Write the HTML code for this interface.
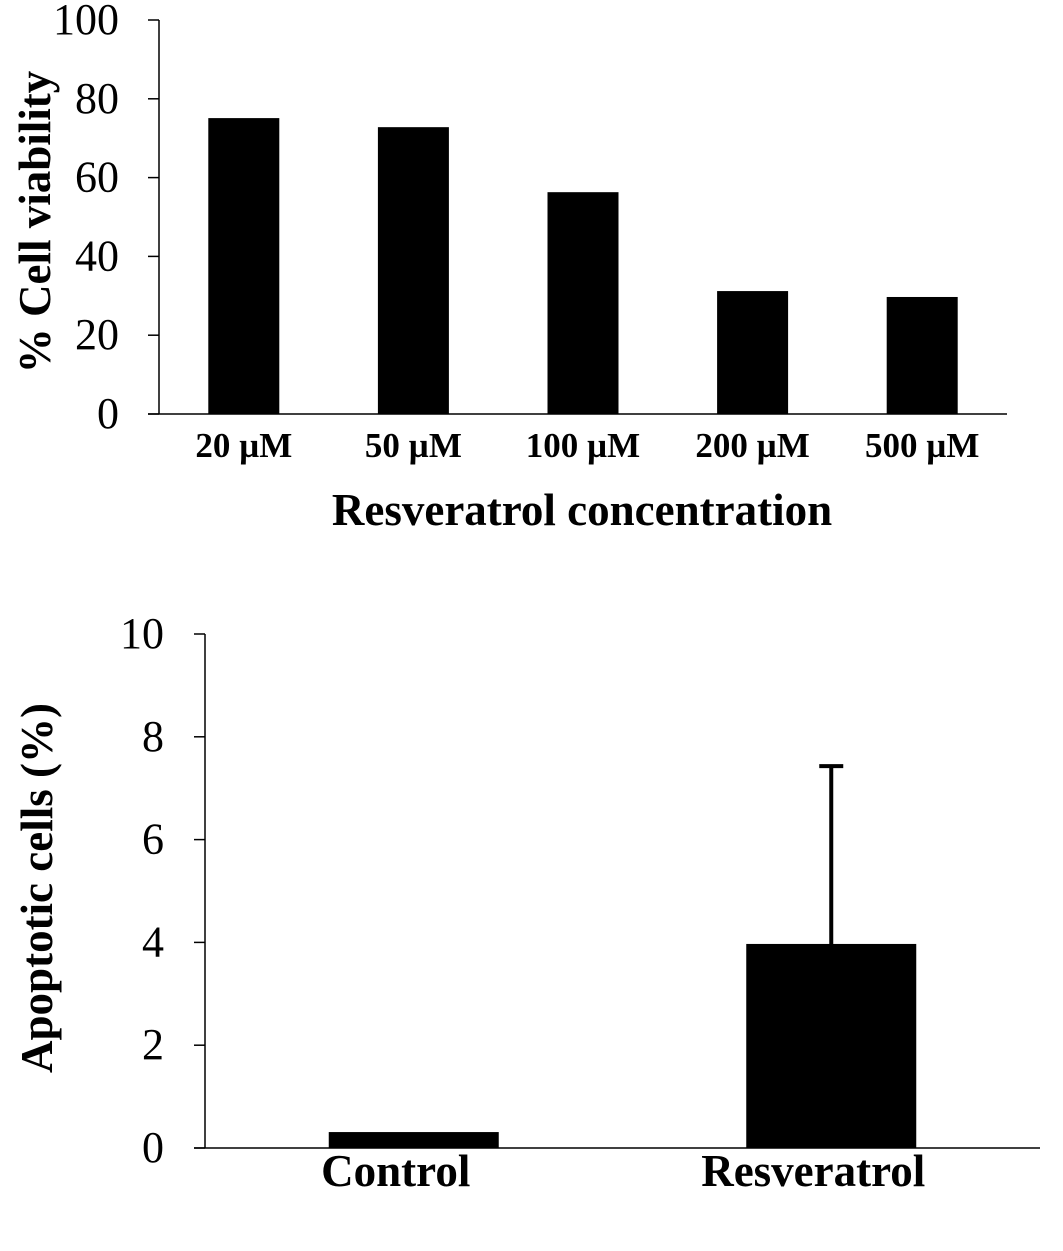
<!DOCTYPE html>
<html><head><meta charset="utf-8"><style>
html,body{margin:0;padding:0;background:#fff;}
svg{display:block;font-family:"Liberation Serif",serif;}
</style></head><body>
<svg id="c" width="1063" height="1251" viewBox="0 0 1063 1251"></svg>
<script>
const topCategories = ["20 µM","50 µM","100 µM","200 µM","500 µM"];
const topValues = [75.1, 72.8, 56.3, 31.2, 29.7];
const topTicks = [0,20,40,60,80,100];
const botCategories = ["Control","Resveratrol"];
const botValues = [0.31, 3.97];
const botErrors = [0, 3.46];
const botTicks = [0,2,4,6,8,10];

const NS="http://www.w3.org/2000/svg";
const svg=document.getElementById('c');
function mk(tag,attrs,parent){const e=document.createElementNS(NS,tag);for(const k in attrs)e.setAttribute(k,attrs[k]);(parent||svg).appendChild(e);return e;}

function chart(o){
  const g=mk('g',{});
  
  
  const y=v=>o.y0-(v-o.vmin)/(o.vmax-o.vmin)*(o.y0-o.y1);
  const bw=(o.xEnd-o.xAxis)/o.cats.length;
  const xc=i=>o.xAxis+bw*(i+0.5);
  o.cats.forEach((c,i)=>{
    const v=o.vals[i];
    const r=mk('rect',{x:xc(i)-o.barW/2,y:y(v),width:o.barW,height:o.y0-y(v),fill:'#000'},g);
    
    
    if(o.errs&&o.errs[i]>0){
      const e=mk('g',{},g);
      
      
      mk('line',{x1:xc(i),x2:xc(i),y1:y(v),y2:y(v+o.errs[i]),stroke:'#000','stroke-width':4},e);
      mk('line',{x1:xc(i)-12,x2:xc(i)+12,y1:y(v+o.errs[i]),y2:y(v+o.errs[i]),stroke:'#000','stroke-width':4},e);
    }
    const t=mk('text',{x:xc(i)+o.xLabelDx,y:o.xLabelY,'text-anchor':'middle','font-weight':'bold','font-size':o.xFont},g);
    t.textContent=c;
    
    
  });
  const ax=mk('line',{x1:o.xAxis,x2:o.xAxis,y1:o.y1,y2:o.y0,stroke:'#000','stroke-width':1.5},g);
  
  
  const xa=mk('line',{x1:o.xAxis-11,x2:o.xEnd,y1:o.y0,y2:o.y0,stroke:'#000','stroke-width':1.5},g);
  
  
  o.ticks.forEach(tv=>{
    mk('line',{x1:o.xAxis-11,x2:o.xAxis,y1:y(tv),y2:y(tv),stroke:'#000','stroke-width':1.5},g);
    const t=mk('text',{x:o.tickX,y:y(tv)+14,'text-anchor':'end','font-size':44},g);
    t.textContent=tv;
    
    
  });
  const yt=mk('text',{x:0,y:0,transform:`translate(${o.ytX},${o.ytY}) rotate(-90)`,'text-anchor':'middle','font-weight':'bold','font-size':o.ytFont},g);
  yt.textContent=o.ytitle;
  
  
  if(o.xtitle){
    const xt=mk('text',{x:o.xtX,y:o.xtY,'text-anchor':'middle','font-weight':'bold','font-size':45},g);
    xt.textContent=o.xtitle;
    
    
  }
}
chart({name:'cell-viability-chart',cats:topCategories,vals:topValues,ticks:topTicks,vmin:0,vmax:100,
  y0:414,y1:20,xAxis:159,xEnd:1007,barW:71,xLabelY:457,xLabelDx:0,xFont:35,tickX:119,
  ytitle:'% Cell viability',ytX:50,ytY:222,ytFont:45,xtitle:'Resveratrol concentration',xtX:582,xtY:525});
chart({name:'apoptotic-cells-chart',cats:botCategories,vals:botValues,errs:botErrors,ticks:botTicks,vmin:0,vmax:10,
  y0:1148,y1:634,xAxis:205,xEnd:1040,barW:170,xLabelY:1186,xLabelDx:-18,xFont:45,tickX:164,
  ytitle:'Apoptotic cells (%)',ytX:52,ytY:888,ytFont:45});
</script>
</body></html>
